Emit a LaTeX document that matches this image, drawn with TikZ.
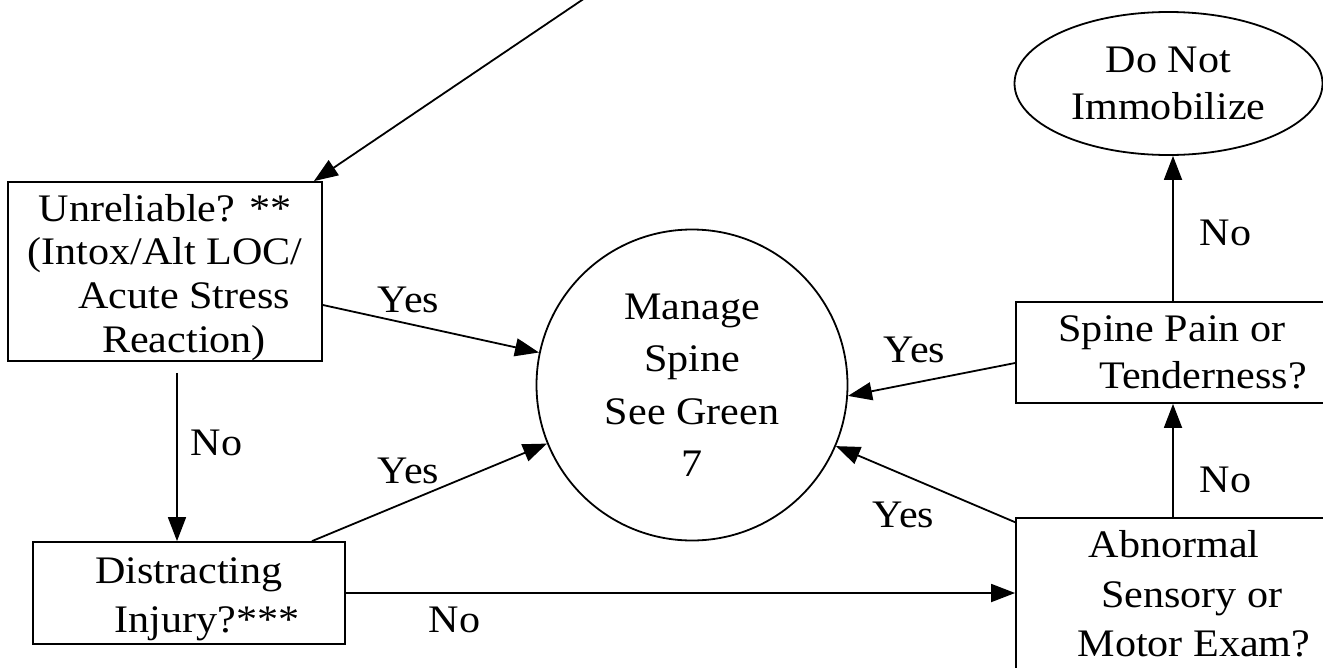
\documentclass[tikz,border=0pt]{standalone}
\usepackage{fontspec}
\setmainfont{Liberation Serif}[FakeStretch=1.08]
\usetikzlibrary{arrows.meta,shapes.geometric}
\begin{document}
\begin{tikzpicture}[x=1pt,y=-1pt,line width=1.8pt,
  box/.style={draw,rectangle,inner sep=0pt,align=center},
  arr/.style={-{Triangle[length=24pt,width=18pt]}},
  lbl/.style={anchor=base west,inner sep=0pt,font=\fontsize{39}{46}\selectfont}]
\useasboundingbox (0,0) rectangle (1323,667);
\clip (0,0) rectangle (1323,667);
% nodes
\node[box,minimum width=314pt,minimum height=179pt,font=\fontsize{39}{43.7}\selectfont] (unrel) at (165,271.5)
  {\rule{0pt}{38.6pt}Unreliable? **\\(Intox/Alt LOC/\\\hspace*{38pt}Acute Stress\\\hspace*{38pt}Reaction)};
\node[box,minimum width=312pt,minimum height=102pt,font=\fontsize{39}{49}\selectfont] (distr) at (189,593)
  {\rule{0pt}{37.4pt}Distracting\\\hspace*{36pt}Injury?***};
\node[box,minimum width=330pt,minimum height=101pt,font=\fontsize{39}{47}\selectfont] (pain) at (1181,352.5)
  {\hspace*{-18pt}Spine Pain or\\\hspace*{44pt}Tenderness?};
\node[box,minimum width=330pt,minimum height=152.4pt,font=\fontsize{39}{49.5}\selectfont] (abn) at (1181,594.2)
  {\hspace*{-14pt}Abnormal\\\hspace*{22pt}Sensory or\\\hspace*{26pt}Motor Exam?};
\node[draw,ellipse,inner sep=0pt,minimum width=308pt,minimum height=143pt,align=center,font=\fontsize{39}{47}\selectfont] (imm) at (1168.5,83.5)
  {Do Not\\Immobilize};
\node[draw,circle,inner sep=0pt,minimum size=311pt,align=center,font=\fontsize{39}{52.5}\selectfont] (manage) at (692,385)
  {Manage\\Spine\\See Green\\7};
% connectors
\coordinate (src) at (585,-2);
\draw[arr] (src) -- ([xshift=-9pt]unrel.north east);
\draw[arr] ([yshift=-33.5pt]unrel.east) -- (manage.168);
\draw[arr] ([xshift=12pt,yshift=-11pt]unrel.south) -- ([xshift=-12pt]distr.north);
\draw[arr] ([xshift=123pt]distr.north) -- (manage.202);
\draw[arr] (distr.east) -- (distr.east -| abn.west);
\draw[arr] ([yshift=72pt]abn.west) -- (manage.-23);
\draw[arr] ([yshift=-10.5pt]pain.west) -- (manage.-4.3);
\draw[arr] ([xshift=-8pt]abn.north) -- ([xshift=-8pt]pain.south);
\coordinate (p1) at ([xshift=-8pt]pain.north);
\draw[arr] (p1) -- (p1 |- imm.south);
% labels
\node[lbl] (y1) at (377,312) {Yes};
\node[lbl] (y2) at (377,483) {Yes};
\node[lbl] (y3) at (883,362) {Yes};
\node[lbl] (y4) at (872,527) {Yes};
\node[lbl] (n1) at (190,455) {No};
\node[lbl] (n2) at (428,632) {No};
\node[lbl] (n3) at (1199,245) {No};
\node[lbl] (n4) at (1199,492) {No};
\end{tikzpicture}
\end{document}
